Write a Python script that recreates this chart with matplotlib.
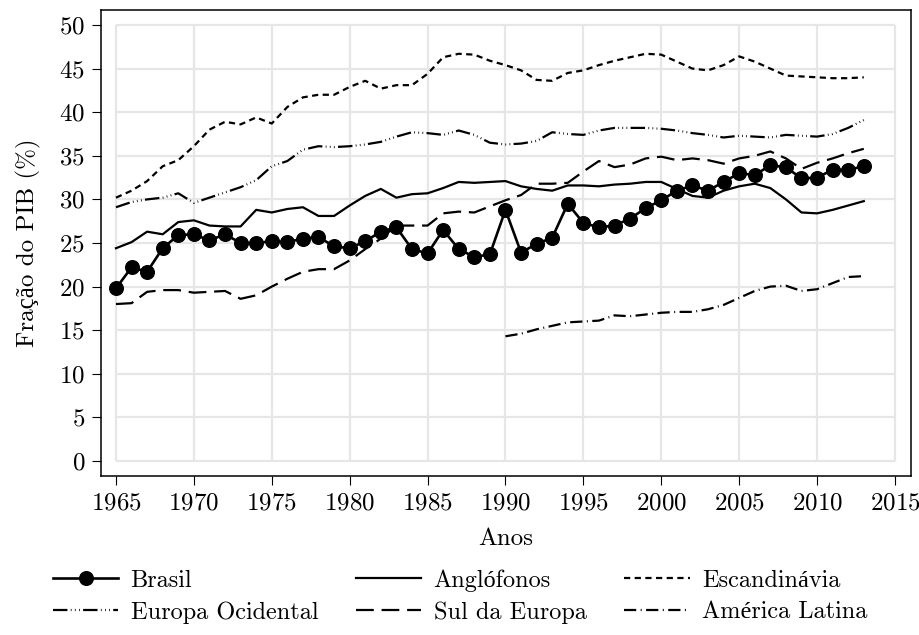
import matplotlib
matplotlib.use("Agg")
import matplotlib.pyplot as plt
import numpy as np

plt.rcParams['font.family'] = ['cmr10', 'Liberation Serif']
plt.rcParams['mathtext.fontset'] = 'cm'
plt.rcParams['axes.formatter.use_mathtext'] = True
plt.rcParams['font.size'] = 18

anos = np.arange(1965, 2014)
anos_al = np.arange(1990, 2014)

brasil = [19.8, 22.2, 21.7, 24.4, 25.9, 26.0, 25.3, 26.0, 25.0, 25.0,
          25.2, 25.1, 25.5, 25.7, 24.6, 24.4, 25.2, 26.3, 26.8, 24.3,
          23.8, 26.5, 24.3, 23.4, 23.7, 28.8, 23.9, 24.9, 25.6, 29.5,
          27.3, 26.8, 27.0, 27.8, 29.0, 29.9, 31.0, 31.6, 31.0, 32.0,
          33.0, 32.8, 33.9, 33.7, 32.4, 32.5, 33.4, 33.4, 33.8]

anglofonos = [24.4, 25.1, 26.3, 26.0, 27.4, 27.6, 27.0, 26.9, 26.9, 28.8,
              28.5, 28.9, 29.1, 28.1, 28.1, 29.3, 30.4, 31.2, 30.2, 30.6,
              30.7, 31.3, 32.0, 31.9, 32.0, 32.1, 31.5, 31.2, 31.0, 31.6,
              31.6, 31.5, 31.7, 31.8, 32.0, 32.0, 31.2, 30.4, 30.2, 31.0,
              31.5, 31.8, 31.3, 30.0, 28.5, 28.4, 28.8, 29.3, 29.8]

escandinavia = [30.2, 31.0, 32.1, 33.8, 34.5, 36.1, 38.0, 38.9, 38.6, 39.4,
                38.7, 40.6, 41.7, 42.0, 42.0, 42.9, 43.6, 42.7, 43.1, 43.1,
                44.4, 46.3, 46.7, 46.6, 45.9, 45.4, 44.8, 43.7, 43.6, 44.5,
                44.8, 45.4, 45.9, 46.3, 46.7, 46.6, 45.8, 45.0, 44.8, 45.4,
                46.4, 45.8, 45.0, 44.2, 44.1, 44.0, 43.9, 43.9, 44.0]

europa_ocidental = [29.1, 29.7, 30.0, 30.2, 30.7, 29.6, 30.2, 30.8, 31.4, 32.2,
                    33.8, 34.4, 35.7, 36.1, 36.0, 36.1, 36.3, 36.6, 37.2, 37.7,
                    37.6, 37.4, 37.9, 37.4, 36.5, 36.3, 36.4, 36.7, 37.7, 37.5,
                    37.4, 37.9, 38.2, 38.2, 38.2, 38.1, 37.9, 37.6, 37.4, 37.1,
                    37.3, 37.2, 37.1, 37.4, 37.3, 37.2, 37.5, 38.2, 39.1]

sul_europa = [18.0, 18.1, 19.4, 19.6, 19.6, 19.3, 19.4, 19.5, 18.6, 19.0,
              20.0, 20.9, 21.7, 22.0, 22.0, 23.0, 24.3, 25.5, 27.0, 27.0,
              27.0, 28.4, 28.6, 28.5, 29.2, 29.9, 30.5, 31.8, 31.8, 31.9,
              33.2, 34.4, 33.7, 34.0, 34.7, 34.9, 34.5, 34.7, 34.5, 34.1,
              34.7, 35.0, 35.5, 34.7, 33.5, 34.2, 34.7, 35.3, 35.8]

america_latina = [14.3, 14.6, 15.1, 15.5, 15.9, 16.0, 16.1, 16.7, 16.6, 16.8,
                  17.0, 17.1, 17.1, 17.4, 17.9, 18.7, 19.5, 20.0, 20.1, 19.5,
                  19.7, 20.4, 21.1, 21.2]

xticks = np.arange(1965, 2016, 5)
yticks = np.arange(0, 51, 5)

fig = plt.figure(figsize=(9.2, 6.35), dpi=100)
ax = fig.add_axes([101/920, 1 - 476/635, 810/920, 466/635])

# grid only inside the data region, like the original
ax.hlines(yticks, 1965, 2015, color='#e6e6e6', lw=1.6, zorder=0)
ax.vlines(xticks, 0, 50, color='#e6e6e6', lw=1.6, zorder=0)

k = 'black'
l_br, = ax.plot(anos, brasil, color=k, lw=1.9, marker='o', ms=9.8,
                label='Brasil')
l_an, = ax.plot(anos, anglofonos, color=k, lw=1.6, label='Anglófonos')
l_es, = ax.plot(anos, escandinavia, color=k, lw=1.6, dashes=(2.8, 2),
                label='Escandinávia')
l_eo, = ax.plot(anos, europa_ocidental, color=k, lw=1.6,
                dashes=(6.5, 1.5, 0.35, 1.5, 0.35, 1.5, 0.35, 1.5),
                label='Europa Ocidental')
l_se, = ax.plot(anos, sul_europa, color=k, lw=1.6, dashes=(8, 3.5),
                label='Sul da Europa')
l_al, = ax.plot(anos_al, america_latina, color=k, lw=1.6,
                dashes=(5.5, 2, 0.45, 2), label='América Latina')

ax.set_xlim(1964.04, 2016.03)
ax.set_ylim(-1.72, 51.72)
ax.set_xticks(xticks)
ax.set_yticks(yticks)
ax.tick_params(length=6.5, width=0.8, pad=5)
for s in ax.spines.values():
    s.set_linewidth(1.1)

ax.set_xlabel('Anos', labelpad=10)
ax.set_ylabel('Fração do PIB (%)', labelpad=13)

handles = [l_br, l_eo, l_an, l_se, l_es, l_al]
fig.legend(handles, [h.get_label() for h in handles], ncol=3,
           loc='center', bbox_to_anchor=(0.5, 1 - 596.5/635), frameon=False,
           fontsize=17.5, handlelength=2.7, handletextpad=0.5,
           columnspacing=1.55, labelspacing=0.38)

fig.savefig('out.png', dpi=100)
